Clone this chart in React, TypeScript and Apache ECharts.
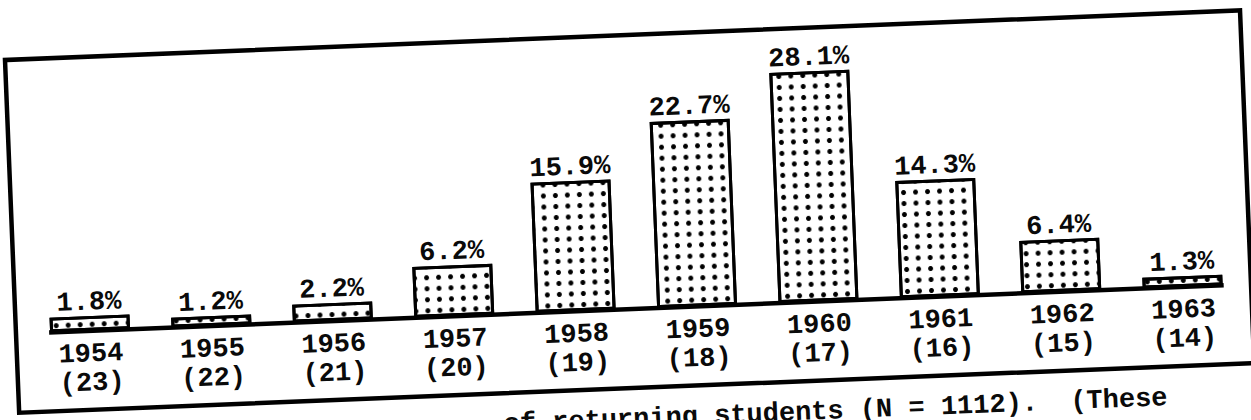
import React, { useEffect, useRef } from "react";
import * as echarts from "echarts";

// ---- data ----
const years = ["1954", "1955", "1956", "1957", "1958", "1959", "1960", "1961", "1962", "1963"];
const ages = [23, 22, 21, 20, 19, 18, 17, 16, 15, 14];
const percents = [1.8, 1.2, 2.2, 6.2, 15.9, 22.7, 28.1, 14.3, 6.4, 1.3];
const captionText = "of returning students (N = 1112).  (These";

const FONT = '"Liberation Mono", "DejaVu Sans Mono", monospace';
const INK = "#0a0a0a";
const WEIGHT = "bold";
const PAD = 10;
const ANGLE = -2.3;
const FRAME_W = 1236;
const FRAME_H = 353;

export default function App() {
  const ref = useRef<HTMLDivElement>(null);

  useEffect(() => {
    if (!ref.current) return;
    const chart = echarts.init(ref.current, null, { renderer: "svg" });
    const barWidth = 80;
    chart.setOption({
      animation: false,
      grid: { left: PAD + 13.4, top: PAD + 28, width: 1215, height: 246 },
      xAxis: {
        type: "category",
        data: years.map((y, i) => `${y}\n(${ages[i]})`),
        axisLine: { show: false },
        axisTick: { show: false },
        axisLabel: {
          margin: 9,
          fontFamily: FONT,
          fontSize: 27,
          fontWeight: WEIGHT,
          lineHeight: 29,
          color: INK,
        },
      },
      yAxis: { type: "value", min: 0, max: 30, show: false },
      series: [
        {
          type: "bar",
          data: percents,
          barWidth,
          itemStyle: {
            color: "#ffffff",
            borderColor: "#000",
            borderWidth: 3,
            decal: {
              symbol: "circle",
              symbolSize: 1,
              color: "#000",
              dashArrayX: [5, 6.5],
              dashArrayY: [5, 5.5],
            },
          },
          label: {
            show: true,
            position: "top",
            distance: 0,
            fontFamily: FONT,
            fontSize: 27,
            fontWeight: WEIGHT,
            color: INK,
            formatter: (p: any) => Number(p.value).toFixed(1) + "%",
          },
        },
      ],
    });

    const x0 = chart.convertToPixel({ xAxisIndex: 0 }, 0) as number;
    const x1 = chart.convertToPixel({ xAxisIndex: 0 }, years.length - 1) as number;
    const y0 = chart.convertToPixel({ yAxisIndex: 0 }, 0) as number;

    chart.setOption({
      graphic: [
        {
          type: "rect",
          shape: { x: PAD, y: PAD, width: FRAME_W, height: FRAME_H },
          style: { fill: "none", stroke: "#000", lineWidth: 4.5 },
          z: 100,
        },
        {
          type: "line",
          shape: { x1: x0 - barWidth / 2 - 1, y1: y0, x2: x1 + barWidth / 2 + 1, y2: y0 },
          style: { stroke: "#000", lineWidth: 4.5 },
          z: 100,
        },
        {
          type: "text",
          x: PAD + 1148,
          y: PAD + 371,
          style: {
            text: captionText,
            fontFamily: FONT,
            fontSize: 27,
            fontWeight: WEIGHT,
            fill: INK,
            textAlign: "right",
            textVerticalAlign: "top",
          },
          z: 100,
        },
      ],
    });

    return () => chart.dispose();
  }, []);

  return (
    <div
      style={{
        position: "fixed",
        left: 0,
        top: 0,
        width: 1251,
        height: 420,
        overflow: "hidden",
        background: "#ffffff",
      }}
    >
      <div
        ref={ref}
        style={{
          position: "absolute",
          left: 5 - PAD,
          top: 60 - PAD,
          width: FRAME_W + 2 * PAD + 20,
          height: 440,
          transform: `rotate(${ANGLE}deg)`,
          transformOrigin: `${PAD}px ${PAD}px`,
        }}
      />
    </div>
  );
}
